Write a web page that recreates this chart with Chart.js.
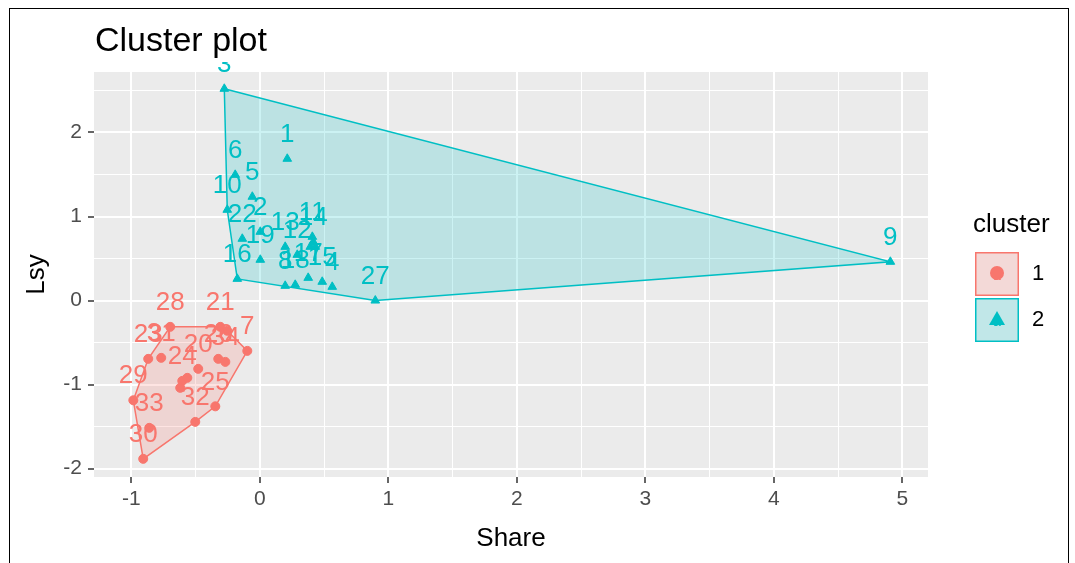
<!DOCTYPE html>
<html>
<head>
<meta charset="utf-8">
<title>Cluster plot</title>
<script src="https://cdn.jsdelivr.net/npm/chart.js@4.4.1/dist/chart.umd.min.js"></script>
<style>
  html, body { margin: 0; padding: 0; background: #fff; overflow: hidden; }
  #wrap { position: relative; width: 1075px; height: 563px; }
  #frame { position: absolute; left: 9px; top: 8px; width: 1058px; height: 620px; border: 1px solid #000; pointer-events: none; }
</style>
</head>
<body>
<div id="wrap">
  <canvas id="cluster" width="1075" height="563"></canvas>
  <div id="frame"></div>
</div>
<script>
// labels / text
const titleText = 'Cluster plot';
const xLabel = 'Share';
const yLabel = 'Lsy';
const legendTitle = 'cluster';
const clusters = ['1', '2'];
const clusterColors = ['#F8766D', '#00BFC4'];
const clusterFills = ['rgba(248,118,109,0.2)', 'rgba(0,191,196,0.2)'];

// cluster 1 ('' = label hidden under others)
const c1Ids   = ['28', '21', '', '7', '23', '31', '26', '34', '20', '24', '', '', '29', '25', '32', '33', '30'];
const c1Share = [-0.697, -0.307, -0.253, -0.097, -0.868, -0.767, -0.323, -0.268, -0.479, -0.603, -0.564, -0.619, -0.984, -0.346, -0.502, -0.860, -0.907];
const c1Lsy   = [-0.313, -0.313, -0.360, -0.599, -0.694, -0.682, -0.694, -0.730, -0.813, -0.956, -0.920, -1.039, -1.187, -1.259, -1.444, -1.515, -1.884];

// cluster 2
const c2Ids   = ['3', '1', '6', '5', '10', '22', '2', '19', '16', '13', '12', '11', '14', '', '', '8', '18', '17', '15', '4', '27', '9'];
const c2Share = [-0.276, 0.214, -0.191, -0.058, -0.253, -0.136, 0.004, 0.004, -0.175, 0.198, 0.292, 0.409, 0.416, 0.393, 0.432, 0.198, 0.276, 0.377, 0.486, 0.564, 0.899, 4.907];
const c2Lsy   = [2.520, 1.687, 1.496, 1.235, 1.080, 0.735, 0.818, 0.485, 0.258, 0.639, 0.544, 0.758, 0.699, 0.639, 0.639, 0.175, 0.187, 0.270, 0.223, 0.163, 0.000, 0.461];

const xTicks = [-1, 0, 1, 2, 3, 4, 5];
const yTicks = [-2, -1, 0, 1, 2];
const xRange = [-1.29, 5.2];
const yRange = [-2.1, 2.72];

const FONT = '"Liberation Sans", Arial, Helvetica, sans-serif';

function toPoints(xs, ys) {
  return xs.map((x, i) => ({ x: x, y: ys[i] }));
}

// convex hull (monotone chain), closed
function hull(xs, ys) {
  const pts = toPoints(xs, ys).sort((a, b) => a.x - b.x || a.y - b.y);
  const cross = (o, a, b) => (a.x - o.x) * (b.y - o.y) - (a.y - o.y) * (b.x - o.x);
  const lower = [];
  for (const p of pts) {
    while (lower.length >= 2 && cross(lower[lower.length - 2], lower[lower.length - 1], p) <= 0) lower.pop();
    lower.push(p);
  }
  const upper = [];
  for (const p of pts.slice().reverse()) {
    while (upper.length >= 2 && cross(upper[upper.length - 2], upper[upper.length - 1], p) <= 0) upper.pop();
    upper.push(p);
  }
  lower.pop();
  upper.pop();
  const h = lower.concat(upper);
  h.push(h[0]);
  return h;
}

const panelBg = {
  id: 'panelBg',
  beforeDraw(chart) {
    const { ctx, chartArea: a } = chart;
    ctx.save();
    ctx.fillStyle = '#EBEBEB';
    ctx.fillRect(a.left, a.top, a.width, a.height);
    ctx.restore();
  }
};

const pointLabels = {
  id: 'pointLabels',
  afterDatasetsDraw(chart) {
    const { ctx, chartArea: a, scales } = chart;
    ctx.save();
    ctx.beginPath();
    ctx.rect(a.left, a.top - 10, a.width, a.height + 10);
    ctx.clip();
    ctx.font = '26px ' + FONT;
    ctx.textAlign = 'center';
    ctx.textBaseline = 'middle';
    chart.data.datasets.forEach(ds => {
      if (!ds.ids) return;
      ctx.fillStyle = ds.borderColor;
      ds.data.forEach((p, i) => {
        if (!ds.ids[i]) return;
        ctx.fillText(ds.ids[i], scales.x.getPixelForValue(p.x), scales.y.getPixelForValue(p.y) - 24);
      });
    });
    ctx.restore();
  }
};

// title + legend drawn by hand, ggplot style
const extras = {
  id: 'extras',
  afterDraw(chart) {
    const { ctx, chartArea: a } = chart;
    ctx.save();
    ctx.fillStyle = '#000';
    ctx.font = '34px ' + FONT;
    ctx.textAlign = 'left';
    ctx.textBaseline = 'middle';
    ctx.fillText(titleText, a.left + 1, 42);

    const lx = a.right + 47;
    ctx.font = '26px ' + FONT;
    ctx.fillText(legendTitle, lx - 2, 225);

    const size = 44;
    clusters.forEach((c, i) => {
      const top = 252 + i * (size + 2);
      ctx.fillStyle = '#F2F2F2';
      ctx.fillRect(lx, top, size, size);
      ctx.fillStyle = clusterFills[i];
      ctx.fillRect(lx, top, size, size);
      ctx.strokeStyle = clusterColors[i];
      ctx.lineWidth = 1.5;
      ctx.strokeRect(lx + 0.75, top + 0.75, size - 1.5, size - 1.5);
      const cx = lx + size / 2, cy = top + size / 2;
      ctx.fillStyle = clusterColors[i];
      ctx.font = '14px ' + FONT;
      ctx.textAlign = 'center';
      ctx.fillText('a', cx, cy + 2);
      ctx.beginPath();
      if (i === 0) {
        ctx.arc(cx, cy - 1, 7, 0, Math.PI * 2);
      } else {
        ctx.moveTo(cx, cy - 9);
        ctx.lineTo(cx + 8, cy + 5);
        ctx.lineTo(cx - 8, cy + 5);
        ctx.closePath();
      }
      ctx.fill();
      ctx.fillStyle = '#000';
      ctx.font = '22px ' + FONT;
      ctx.textAlign = 'left';
      ctx.fillText(c, lx + size + 13, cy);
    });
    ctx.restore();
  }
};

const gridColor = '#FFFFFF';

new Chart(document.getElementById('cluster'), {
  type: 'scatter',
  data: {
    datasets: [
      {
        ids: c1Ids,
        data: toPoints(c1Share, c1Lsy),
        pointStyle: 'circle',
        pointRadius: 4.5,
        backgroundColor: clusterColors[0],
        borderColor: clusterColors[0],
        borderWidth: 1,
        order: 0
      },
      {
        ids: c2Ids,
        data: toPoints(c2Share, c2Lsy),
        pointStyle: 'triangle',
        pointRadius: 5,
        backgroundColor: clusterColors[1],
        borderColor: clusterColors[1],
        borderWidth: 1,
        order: 0
      },
      {
        type: 'line',
        data: hull(c1Share, c1Lsy),
        borderColor: clusterColors[0],
        backgroundColor: clusterFills[0],
        borderWidth: 1.5,
        pointRadius: 0,
        tension: 0,
        fill: 'shape',
        order: 1
      },
      {
        type: 'line',
        data: hull(c2Share, c2Lsy),
        borderColor: clusterColors[1],
        backgroundColor: clusterFills[1],
        borderWidth: 1.5,
        pointRadius: 0,
        tension: 0,
        fill: 'shape',
        order: 1
      }
    ]
  },
  options: {
    responsive: false,
    animation: false,
    events: [],
    layout: { padding: { left: 10, top: 72, right: 147, bottom: 0 } },
    plugins: {
      legend: { display: false },
      tooltip: { enabled: false },
      title: { display: false }
    },
    scales: {
      x: {
        type: 'linear',
        min: xRange[0],
        max: xRange[1],
        afterFit(scale) { scale.height = 86; },
        border: { display: false },
        grid: {
          color: gridColor,
          lineWidth: c => xTicks.includes(c.tick.value) ? 2 : 1,
          tickColor: c => xTicks.includes(c.tick.value) ? '#333333' : 'rgba(0,0,0,0)',
          tickWidth: 1.5,
          tickLength: 6,
          drawTicks: true
        },
        ticks: {
          stepSize: 0.5,
          includeBounds: false,
          autoSkip: false,
          maxRotation: 0,
          padding: 4,
          color: '#4D4D4D',
          font: { family: FONT, size: 21 },
          callback: v => xTicks.includes(v) ? String(v) : ''
        },
        title: {
          display: true,
          text: xLabel,
          color: '#000',
          font: { family: FONT, size: 26 },
          padding: { top: 0, bottom: 9 }
        }
      },
      y: {
        type: 'linear',
        min: yRange[0],
        max: yRange[1],
        afterFit(scale) { scale.width = 84; },
        border: { display: false },
        grid: {
          color: gridColor,
          lineWidth: c => yTicks.includes(c.tick.value) ? 2 : 1,
          tickColor: c => yTicks.includes(c.tick.value) ? '#333333' : 'rgba(0,0,0,0)',
          tickWidth: 1.5,
          tickLength: 6,
          drawTicks: true
        },
        ticks: {
          stepSize: 0.5,
          includeBounds: false,
          autoSkip: false,
          padding: 6,
          color: '#4D4D4D',
          font: { family: FONT, size: 21 },
          callback: v => yTicks.includes(v) ? String(v) : ''
        },
        title: {
          display: true,
          text: yLabel,
          color: '#000',
          font: { family: FONT, size: 26 },
          padding: { top: 11, bottom: 0 }
        }
      }
    }
  },
  plugins: [panelBg, pointLabels, extras]
});
</script>
</body>
</html>
